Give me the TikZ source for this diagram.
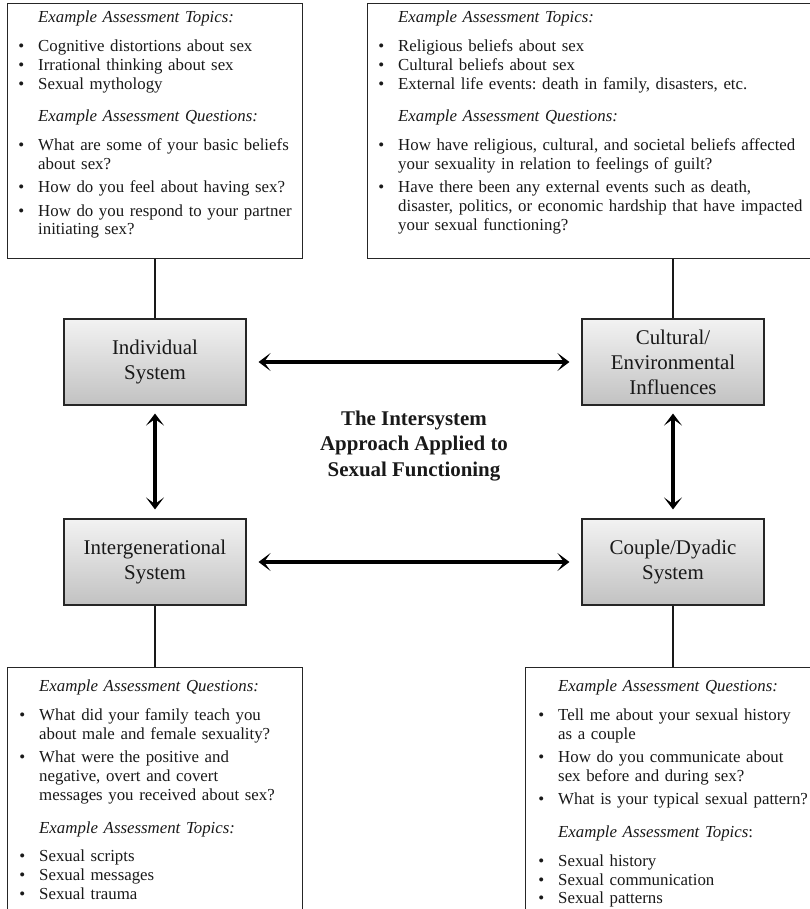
\documentclass[tikz,border=0pt]{standalone}
\usepackage{fontspec}
\setmainfont{Liberation Serif}
\usetikzlibrary{arrows.meta}
\frenchspacing
\newcommand\bitem{\par\noindent\llap{\textbullet\hspace{14bp}}}
\newcommand\bitemq{\par\vspace{4.3bp}\noindent\llap{\textbullet\hspace{14bp}}}
\newcommand\bhead[1]{\par\vspace{13.5bp}\noindent\textit{#1}\par\vspace{9.8bp}}
\newcommand\bfirst[1]{\noindent\textit{#1}\par\vspace{9.8bp}}
\begin{document}
\begin{tikzpicture}[x=1bp,y=-1bp,
  infobox/.style={draw=black!85, line width=1.1bp, inner sep=0, anchor=north west, minimum width=#1},
  sysbox/.style={draw=black!85, line width=1.1bp, top color=black!5, bottom color=black!24,
    minimum width=182bp, minimum height=86bp, align=center, inner sep=0,
    font=\fontsize{21}{25}\selectfont, text=black!90},
  infotext/.style={anchor=north west, inner sep=0, text width=430bp, align=left,
    font=\fontsize{16.9}{19}\selectfont, text=black!90},
  link/.style={line width=1.1bp, draw=black!90},
  dbl/.style={line width=3.3bp, draw=black,
    {Stealth[length=12bp,width=18bp,inset=6.5bp]}-{Stealth[length=12bp,width=18bp,inset=6.5bp]}},
  title/.style={align=center, inner sep=0, font=\fontsize{21}{26}\selectfont\bfseries, text=black!90}
]
\useasboundingbox (0,0) rectangle (810,909);
\clip (0,0) rectangle (810,909);

% info boxes
\node[infobox=295bp, minimum height=255bp] (tl) at (7,3) {};
\node[infobox=450bp, minimum height=255bp] (tr) at (367,3) {};
\node[infobox=295bp, minimum height=260bp] (bl) at (7,667) {};
\node[infobox=300bp, minimum height=260bp] (br) at (525,667) {};

% texts
\node[infotext] (tltext) at (38,11) {%
\bfirst{Example Assessment Topics:}
\bitem Cognitive distortions about sex
\bitem Irrational thinking about sex
\bitem Sexual mythology
\bhead{Example Assessment Questions:}
\bitem What are some of your basic beliefs\\about sex?
\bitemq How do you feel about having sex?
\bitemq How do you respond to your partner\\initiating sex?};

\node[infotext] (trtext) at (398,11) {%
\bfirst{Example Assessment Topics:}
\bitem Religious beliefs about sex
\bitem Cultural beliefs about sex
\bitem External life events: death in family, disasters, etc.
\bhead{Example Assessment Questions:}
\bitem How have religious, cultural, and societal beliefs affected\\your sexuality in relation to feelings of guilt?
\bitemq Have there been any external events such as death,\\disaster, politics, or economic hardship that have impacted\\your sexual functioning?};

\node[infotext] (bltext) at (39,680) {%
\bfirst{Example Assessment Questions:}
\bitem What did your family teach you\\about male and female sexuality?
\bitemq What were the positive and\\negative, overt and covert\\messages you received about sex?
\bhead{Example Assessment Topics:}
\bitem Sexual scripts
\bitem Sexual messages
\bitem Sexual trauma};

\node[infotext] (brtext) at (558,680) {%
\noindent\textit{Example Assessment Questions:}\par\vspace{9.8bp}
\bitem Tell me about your sexual history\\as a couple
\bitemq How do you communicate about\\sex before and during sex?
\bitemq What is your typical sexual pattern?
\par\vspace{13.5bp}\noindent\textit{Example Assessment Topics}:\par\vspace{9.8bp}
\bitem Sexual history
\bitem Sexual communication
\bitem Sexual patterns};

% system boxes
\node[sysbox] (ind) at (155,362) {Individual\\System};
\node[sysbox] (cul) at (673,362) {Cultural/\\Environmental\\Influences};
\node[sysbox] (int) at (155,562) {Intergenerational\\System};
\node[sysbox] (cou) at (673,562) {Couple/Dyadic\\System};

\node[title] (ttl) at (414,446) {The Intersystem\\Approach Applied to\\Sexual Functioning};

% connectors
\draw[link] (ind.north) -- (ind.north |- tl.south);
\draw[link] (cul.north) -- (cul.north |- tr.south);
\draw[link] (int.south) -- (int.south |- bl.north);
\draw[link] (cou.south) -- (cou.south |- br.north);

\draw[dbl, shorten <=12bp, shorten >=12bp] (ind.east) -- (cul.west);
\draw[dbl, shorten <=12bp, shorten >=12bp] (int.east) -- (cou.west);
\draw[dbl, shorten <=8bp, shorten >=9bp] (ind.south) -- (int.north);
\draw[dbl, shorten <=8bp, shorten >=9bp] (cul.south) -- (cou.north);
\end{tikzpicture}
\end{document}
